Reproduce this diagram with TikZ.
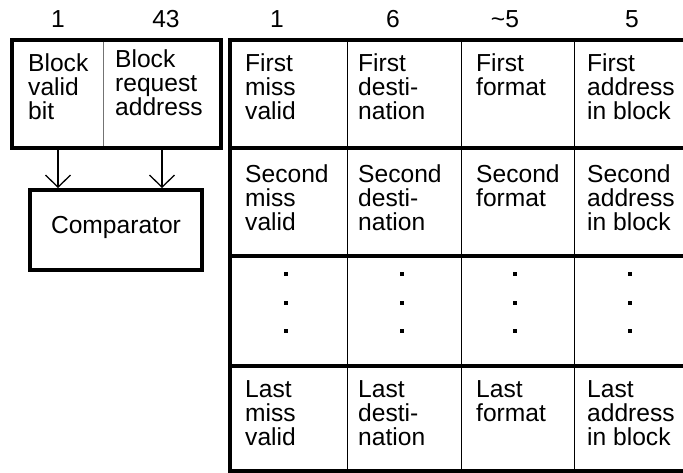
\documentclass[tikz,border=0pt]{standalone}
\usepackage{fontspec}
\setmainfont{Liberation Sans}
\usetikzlibrary{arrows.meta}
\tikzset{cell/.style={draw, line width=1pt, inner sep=0pt, anchor=north west}}
\tikzset{lbl/.style={inner sep=0pt, anchor=north west, align=left, font=\fontsize{24.6}{24}\selectfont}}
\tikzset{num/.style={inner sep=0pt, font=\fontsize{24.6}{24}\selectfont}}
\tikzset{heavy/.style={line width=4pt}}
\tikzset{arr/.style={-{Straight Barb[length=12pt,width=25pt]}, line width=1.3pt}}

\begin{document}
\begin{tikzpicture}[x=1pt,y=-1pt]
    \useasboundingbox (0,0) rectangle (683,472);
    \clip (0,0) rectangle (683,472);
    \node[cell, draw=black!55, minimum width=91, minimum height=107] (bv) at (12,39.5) {};
    \node[cell, draw=black!55, minimum width=117, minimum height=107] (br) at (103,39.5) {};
    \draw[heavy] (bv.north west) rectangle (br.south east);
    \node[lbl] at ([shift={(16,14)}]bv.north west) {Block\\valid\\bit};
    \node[lbl] at ([shift={(12,10)}]br.north west) {Block\\request\\address};
    \node[num] (nbv) at (58,19) {1};
    \node[num] (nbr) at (166,19) {43};
    \node[draw, heavy, minimum width=172, minimum height=80, inner sep=0pt,
      text height=17pt, text depth=10pt, font=\fontsize{24.6}{24}\selectfont] (cmp) at (116,230) {Comparator};
    \draw[arr] (bv.south) -- (bv.south |- cmp.north);
    \draw[arr] (br.south) -- (br.south |- cmp.north);
    \foreach \x/\w [count=\c] in {230/117,347/114,461/113,574/116}
      \foreach \y/\h [count=\r] in {39.5/107,146.5/108.5,255/110,365/105}
        \node[cell, minimum width=\w, minimum height=\h] (c\r\c) at (\x,\y) {};
    \draw[heavy] (c14.north east) -- (c11.north west) -- (c41.south west) -- (c44.south east);
    \foreach \r in {1,2,3}
      \draw[heavy] (c\r1.south west) -- (c\r4.south east);
    \foreach \r/\t/\d in {1/First/14,2/Second/18,4/Last/15} {
      \node[lbl] at ([shift={(15,\d)}]c\r1.north west) {\t\\miss\\valid};
      \node[lbl] at ([shift={(11,\d)}]c\r2.north west) {\t\\desti-\\nation};
      \node[lbl] at ([shift={(15,\d)}]c\r3.north west) {\t\\format};
      \node[lbl] at ([shift={(13,\d)}]c\r4.north west) {\t\\address\\in block};
    }
    \foreach \c in {1,...,4}
      \foreach \d in {-37,-8,20}
        \fill ([shift={(-3,\d)}]c3\c.center) +(-2,-2) rectangle +(2,2);
    \node[num] (n1) at (277,19) {1};
    \node[num] (n2) at (393,19) {6};
    \node[num] (n3) at (505,19) {\textasciitilde5};
    \node[num] (n4) at (632,19) {5};
\end{tikzpicture}
\end{document}
